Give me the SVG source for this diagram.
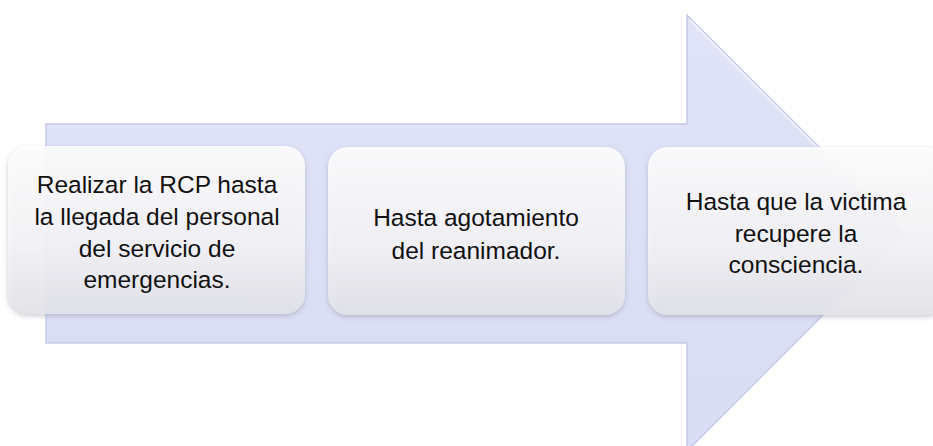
<svg xmlns="http://www.w3.org/2000/svg" width="933" height="446" viewBox="0 0 933 446">
  <defs>
    <linearGradient id="arrowFill" x1="0" y1="0" x2="0" y2="1">
      <stop offset="0" stop-color="#e1e4f8"/>
      <stop offset="1" stop-color="#d8dcf4"/>
    </linearGradient>
    <linearGradient id="boxFill" x1="0" y1="0" x2="0" y2="1">
      <stop offset="0" stop-color="#ffffff" stop-opacity="0.9"/>
      <stop offset="0.6" stop-color="#f6f6f9" stop-opacity="0.85"/>
      <stop offset="1" stop-color="#e4e4ea" stop-opacity="0.88"/>
    </linearGradient>
    <filter id="shadow" x="-10%" y="-10%" width="120%" height="125%">
      <feDropShadow dx="0" dy="2" stdDeviation="2.5" flood-color="#8a8a9a" flood-opacity="0.5"/>
    </filter>
  </defs>
  <style>
    .box { fill: url(#boxFill); filter: url(#shadow); }
    .lbl { font-family: "Liberation Sans", Arial, sans-serif; font-size: 24.5px; fill: #111111; text-anchor: middle; }
  </style>
  <rect width="933" height="446" fill="#ffffff"/>
  <g id="connectors">
    <path d="M46,124 L687,124 L687,15 L905,233 L687,451 L687,343 L46,343 Z" fill="url(#arrowFill)" stroke="#c6cae9" stroke-width="1.5"/>
    <path d="M690,20 L903,233" stroke="#ffffff" stroke-width="1.2" opacity="0.8" fill="none"/>
  </g>
  <g id="node1">
    <rect class="box" x="8" y="146" width="297" height="168" rx="20"/>
    <text class="lbl" x="157" y="193">Realizar la RCP hasta</text>
    <text class="lbl" x="157" y="225">la llegada del personal</text>
    <text class="lbl" x="157" y="257">del servicio de</text>
    <text class="lbl" x="157" y="288">emergencias.</text>
  </g>
  <g id="node2">
    <rect class="box" x="328" y="147" width="297" height="168" rx="20"/>
    <text class="lbl" x="476" y="226">Hasta agotamiento</text>
    <text class="lbl" x="476" y="259">del reanimador.</text>
  </g>
  <g id="node3">
    <rect class="box" x="648" y="147" width="297" height="168" rx="20"/>
    <text class="lbl" x="796" y="210">Hasta que la victima</text>
    <text class="lbl" x="796" y="242">recupere la</text>
    <text class="lbl" x="796" y="273">consciencia.</text>
  </g>
</svg>
